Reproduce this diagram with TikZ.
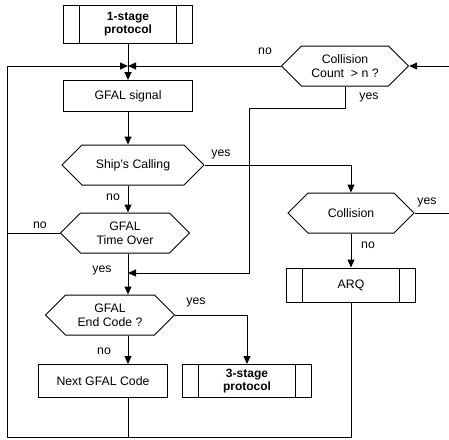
\documentclass[tikz,border=0pt]{standalone}
\usepackage{fontspec}
\setmainfont{Liberation Sans}
\usetikzlibrary{arrows.meta,shapes.symbols,calc}

\begin{document}
\begin{tikzpicture}[x=1pt, y=-1pt, line width=1pt,
    font=\fontsize{12.3}{14}\selectfont,
    arr/.style={-{Triangle[length=8pt,width=7pt]}},
    bold/.style={font=\fontsize{12}{13.5}\selectfont\bfseries},
    proc/.style={draw, minimum height=33pt, minimum width=129pt, align=center, inner sep=1pt},
    sub/.style={proc, path picture={
        \draw ([xshift=16pt]path picture bounding box.north west) -- ([xshift=16pt]path picture bounding box.south west);
        \draw ([xshift=-16pt]path picture bounding box.north east) -- ([xshift=-16pt]path picture bounding box.south east);}},
    dec/.style={draw, signal, signal to=west and east, signal pointer angle=90,
        minimum height=40pt, minimum width=#1, align=center, inner sep=1pt},
    dec/.default=129pt,
    lbl/.style={inner sep=1pt}]
  \useasboundingbox (0,0) rectangle (449,439);

  % Main column
  \node[sub, bold, minimum height=38pt] (s1) at (128,24) {1-stage\\protocol};
  \coordinate (j) at (128,66);
  \node[proc, minimum height=31pt] (sig) at (128,96) {GFAL signal};
  \node[dec=142pt] (ship) at (133,165) {Ship's Calling};
  \node[dec] (over) at (125,233) {GFAL\\Time Over};
  \node[dec] (endc) at (110,315) {GFAL\\End Code ?};
  \node[proc] (nxt) at (103,381) {Next GFAL Code};
  \node[sub, bold] (s3) at (247,381) {3-stage\\protocol};

  % Collision column
  \node[dec=127pt] (cc) at (345,66) {Collision\\Count \ > n ?};
  \node[dec=126pt] (col) at (351,213) {Collision};
  \node[sub, minimum height=34pt] (arq) at (351,285) {ARQ};

  % Loop corners
  \coordinate (tl) at (7,66);
  \coordinate (bl) at (7,437);
  \coordinate (ccin) at (449,66);
  \coordinate (colout) at (449,213);
  \coordinate (back) at (249,108);
  \coordinate (m) at (128,273);

  % Connectors
  \draw (s1.south) -- (j);
  \draw[arr] (tl) -- (j);
  \draw[arr] (cc.west) -- (j);
  \draw[arr] (j) -- (sig.north);
  \draw[arr] (sig.south) -- (sig.south |- ship.north);
  \draw[arr] (ship.south -| j) -- (over.north -| j);
  \draw[arr] (over.south -| j) -- (endc.north -| j);
  \draw[arr] (endc.south -| j) -- (nxt.north -| j);
  \draw (nxt.south -| j) -- (j |- bl);
  \draw (arq.south) -- (arq.south |- bl) -- (bl) -- (tl);
  \draw (over.west) -- (over.west -| tl);
  \draw[arr] (ship.east) -| (col.north);
  \draw[arr] (endc.east) -| (s3.north);
  \draw[arr] (col.south) -- (arq.north);
  \draw (col.east) -- (colout);
  \draw[arr] (ccin) -- (cc.east);
  \draw[arr] (cc.south) |- (back) |- (m);

  % Labels
  \node[lbl] (ccno) at (265,51) {no};
  \node[lbl] (ccyes) at (369,97) {yes};
  \node[lbl] (shipyes) at (221,154) {yes};
  \node[lbl] (shipno) at (113,197) {no};
  \node[lbl] (overno) at (40,225) {no};
  \node[lbl] (overyes) at (102,270) {yes};
  \node[lbl] (endyes) at (196,302) {yes};
  \node[lbl] (endno) at (104,351) {no};
  \node[lbl] (colyes) at (427,202) {yes};
  \node[lbl] (colno) at (368,245) {no};
\end{tikzpicture}
\end{document}
